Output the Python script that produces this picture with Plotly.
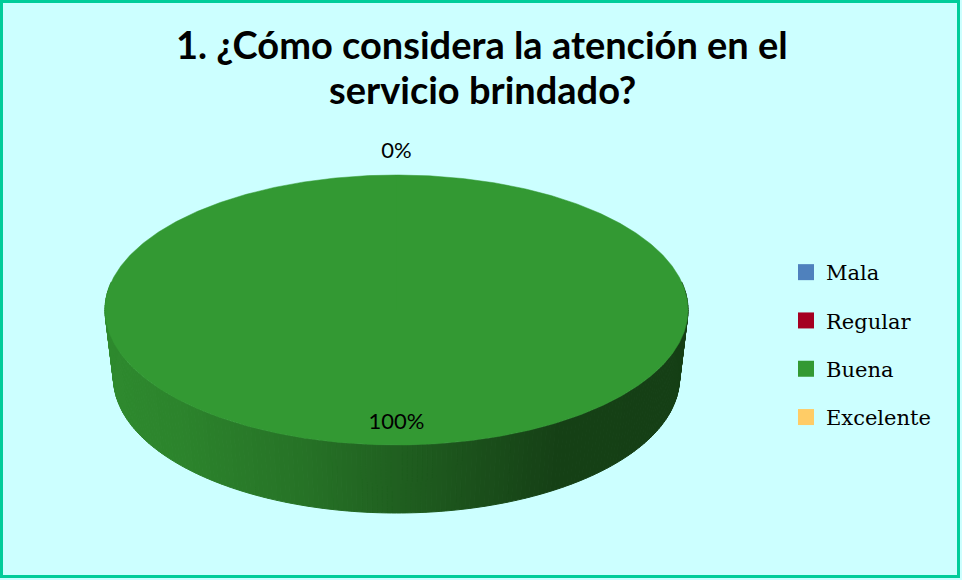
import numpy as np
import plotly.graph_objects as go

# Survey answers and their share of responses (%)
categories = ["Mala", "Regular", "Buena", "Excelente"]
values = [0, 0, 100, 0]
colors = ["#4F81BD", "#A50021", "#339933", "#FFCC66"]

title_lines = ["1. ¿Cómo considera la atención en el", "servicio brindado?"]

# Geometry of the tilted pie (pixel-like canvas units, y grows downward)
CX, CY = 396.5, 310.0
RX, RY = 291.5, 135.0
RX_BOTTOM = 283.0
DEPTH = 68.0
W, H = 962, 580


def top_pt(phi):
    r = np.radians(phi)
    return CX + RX * np.sin(r), CY - RY * np.cos(r)


def bottom_pt(phi):
    r = np.radians(phi)
    return CX + RX_BOTTOM * np.sin(r), CY + DEPTH - RY * np.cos(r)


def shade(hex_color, f):
    h = hex_color.lstrip("#")
    rgb = [int(h[i:i + 2], 16) for i in (0, 2, 4)]
    return "rgb({},{},{})".format(*[int(round(c * f)) for c in rgb])


def side_factor(u):
    # lighter on the left, darkening toward the right
    return float(np.interp(u, [-1.0, -0.75, -0.3, 0.2, 0.55, 1.0],
                           [0.90, 0.86, 0.74, 0.55, 0.42, 0.41]))


total = float(sum(values))
fracs = [v / total for v in values]
bounds = np.concatenate([[0.0], np.cumsum(fracs) * 360.0])

fig = go.Figure()

# Side wall of the pie (front half only), drawn as thin shaded strips
FRONT = (78.0, 282.0)
for i, cat in enumerate(categories):
    s, e = bounds[i], bounds[i + 1]
    lo, hi = max(s, FRONT[0]), min(e, FRONT[1])
    if hi <= lo:
        continue
    steps = np.linspace(lo, hi, int(np.ceil(hi - lo)) + 1)
    for a0, a1 in zip(steps[:-1], steps[1:]):
        xt0, yt0 = top_pt(a0)
        xt1, yt1 = top_pt(a1)
        xb0, yb0 = bottom_pt(a0)
        xb1, yb1 = bottom_pt(a1)
        u = np.sin(np.radians((a0 + a1) / 2))
        c = shade(colors[i], side_factor(u))
        fig.add_trace(go.Scatter(
            x=[xt0, xt1, xb1, xb0, xt0], y=[yt0, yt1, yb1, yb0, yt0],
            mode="lines", fill="toself", fillcolor=c,
            line=dict(color=c, width=1), showlegend=False, hoverinfo="skip"))

# Top face of each slice
for i, cat in enumerate(categories):
    s, e = bounds[i], bounds[i + 1]
    if e - s <= 0:
        continue
    arc = np.linspace(s, e, max(int(np.ceil(e - s)) * 2, 4))
    xs, ys = top_pt(arc)
    fig.add_trace(go.Scatter(
        x=np.concatenate([[CX], xs, [CX]]), y=np.concatenate([[CY], ys, [CY]]),
        mode="lines", fill="toself", fillcolor=colors[i],
        line=dict(color=colors[i], width=0.5), showlegend=False,
        name=cat, hoverinfo="name"))

# Percentage labels at each slice's middle angle
seen = set()
for i, cat in enumerate(categories):
    s, e = bounds[i], bounds[i + 1]
    mid = (s + e) / 2.0
    k = 0.84 if values[i] > 0 else 1.17
    r = np.radians(mid)
    lx, ly = CX + RX * k * np.sin(r), CY - RY * k * np.cos(r)
    key = (round(lx), round(ly))
    if key in seen:
        continue
    seen.add(key)
    fig.add_trace(go.Scatter(
        x=[lx], y=[ly], mode="text", text=["{:.0f}%".format(fracs[i] * 100)],
        textposition="middle center",
        textfont=dict(family="Lato, Open Sans, sans-serif", size=22, color="#000000"),
        showlegend=False, hoverinfo="skip"))

# Legend entries
for i, cat in enumerate(categories):
    fig.add_trace(go.Scatter(
        x=[None], y=[None], mode="markers", name=cat, legendgroup=cat,
        marker=dict(symbol="square", size=16, color=colors[i])))

# Two-line bold title
for line, yc in zip(title_lines, [44, 89]):
    fig.add_annotation(
        x=482, y=yc, xref="x", yref="y", text="<b>" + line + "</b>",
        showarrow=False, xanchor="center", yanchor="middle", align="center",
        font=dict(family="Lato, sans-serif", size=38, color="#000000"))

fig.add_shape(type="rect", xref="x", yref="y", x0=1.5, y0=1.5, x1=958.5, y1=576.5,
              line=dict(color="#00CC99", width=3), fillcolor="rgba(0,0,0,0)")

fig.update_layout(
    width=W, height=H,
    margin=dict(l=0, r=0, t=0, b=0),
    paper_bgcolor="#CCFFFF", plot_bgcolor="#CCFFFF",
    xaxis=dict(range=[0, W], visible=False, fixedrange=True),
    yaxis=dict(range=[H, 0], visible=False, fixedrange=True),
    showlegend=True,
    legend=dict(x=786 / W, y=1 - 252 / H, xanchor="left", yanchor="top",
                bgcolor="rgba(0,0,0,0)", tracegroupgap=18,
                font=dict(family="DejaVu Serif, serif", size=21, color="#000000")),
)

fig.write_html("out.html")
